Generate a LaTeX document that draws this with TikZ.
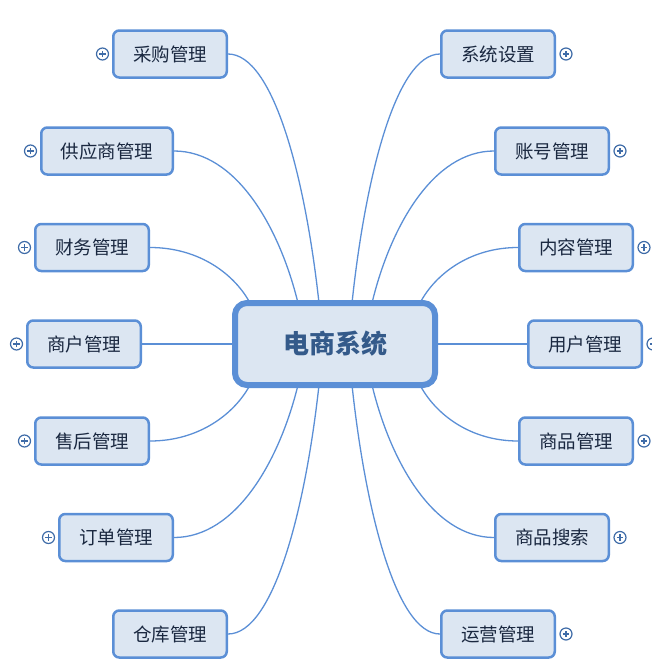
\documentclass[tikz,border=0pt]{standalone}
\usepackage{fontspec}
\newfontfamily\cjk{Noto Sans CJK SC}
\definecolor{bordc}{HTML}{5B8FD6}
\definecolor{fillc}{HTML}{DCE6F2}
\definecolor{txtc}{HTML}{1A2840}
\definecolor{roottxt}{HTML}{345A8A}
\definecolor{linkc}{HTML}{5B8FD6}
\definecolor{plusc}{HTML}{3F6CA8}
\tikzset{
  topic/.style={draw=bordc, fill=fillc, line width=2.5pt, rounded corners=6pt,
    minimum width=113.5pt, minimum height=47pt, inner sep=0pt,
    font=\cjk\fontsize{18.5}{22}\selectfont, text=txtc},
  wide/.style={minimum width=131.5pt},
  root/.style={draw=bordc, fill=fillc, line width=6pt, rounded corners=12pt,
    minimum width=200pt, minimum height=82pt, inner sep=0pt,
    font=\cjk\bfseries\fontsize{26}{31}\selectfont, text=roottxt},
  link/.style={draw=linkc, line width=1.3pt},
  plusbtn/.style={circle, draw=plusc, fill=white, line width=1.2pt, minimum size=12pt, inner sep=0pt,
    path picture={
      \draw[plusc, line width=1.3pt]
        ([xshift=-3.2pt]path picture bounding box.center) -- ([xshift=3.2pt]path picture bounding box.center)
        ([yshift=-3.2pt]path picture bounding box.center) -- ([yshift=3.2pt]path picture bounding box.center);
    }}
}
\begin{document}
\begin{tikzpicture}[x=1pt,y=-1pt]
\useasboundingbox (0,0) rectangle (652,672);
% child nodes
\node[topic] (cg) at (170,54) {采购管理};
\node[topic,wide] (gys) at (107,151) {供应商管理};
\node[topic] (cw) at (92,247.5) {财务管理};
\node[topic] (sh) at (84,344) {商户管理};
\node[topic] (shou) at (92,441) {售后管理};
\node[topic] (dd) at (116,537.5) {订单管理};
\node[topic] (ck) at (170,634) {仓库管理};
\node[topic] (xt) at (498,54) {系统设置};
\node[topic] (zh) at (552,151) {账号管理};
\node[topic] (nr) at (576,247.5) {内容管理};
\node[topic] (yh) at (585,344) {用户管理};
\node[topic] (sp) at (576,441) {商品管理};
\node[topic] (ss) at (552,537.5) {商品搜索};
\node[topic] (yy) at (498,634) {运营管理};
% attachment points on the central topic
\coordinate (tl1) at (319,303);
\coordinate (tl2) at (298,303);
\coordinate (tl3) at (250,303);
\coordinate (ml) at (235,344);
\coordinate (bl3) at (250,385);
\coordinate (bl2) at (298,385);
\coordinate (bl1) at (319,385);
\coordinate (tr1) at (352,303);
\coordinate (tr2) at (372,303);
\coordinate (tr3) at (420,303);
\coordinate (mr) at (435,344);
\coordinate (br3) at (420,385);
\coordinate (br2) at (372,385);
\coordinate (br1) at (352,385);
% connectors
\draw[link] (cg.east) .. controls +(45.5,0) and +(-13.6,-124.8) .. (tl1);
\draw[link] (gys.east) .. controls +(62,0) and +(-18.6,-76) .. (tl2);
\draw[link] (cw.east) .. controls +(50,0) and +(-15,-28) .. (tl3);
\draw[link] (sh.east) -- (ml);
\draw[link] (shou.east) .. controls +(50,0) and +(-15,28) .. (bl3);
\draw[link] (dd.east) .. controls +(62,0) and +(-18.6,76) .. (bl2);
\draw[link] (ck.east) .. controls +(45.5,0) and +(-13.6,124) .. (bl1);
\draw[link] (xt.west) .. controls +(-44,0) and +(13.2,-125) .. (tr1);
\draw[link] (zh.west) .. controls +(-61,0) and +(18.3,-76) .. (tr2);
\draw[link] (nr.west) .. controls +(-49,0) and +(14.7,-28) .. (tr3);
\draw[link] (yh.west) -- (mr);
\draw[link] (sp.west) .. controls +(-49,0) and +(14.7,28) .. (br3);
\draw[link] (ss.west) .. controls +(-61,0) and +(18.3,76) .. (br2);
\draw[link] (yy.west) .. controls +(-44,0) and +(13.2,124) .. (br1);
% central topic
\node[root] (root) at (335,344) {电商系统};
% expand buttons
\node[plusbtn] (p1) at ([xshift=-9.5pt]cg.west) {};
\node[plusbtn] (p2) at ([xshift=-9.5pt]gys.west) {};
\node[plusbtn] (p3) at ([xshift=-9.5pt]cw.west) {};
\node[plusbtn] (p4) at ([xshift=-9.5pt]sh.west) {};
\node[plusbtn] (p5) at ([xshift=-9.5pt]shou.west) {};
\node[plusbtn] (p6) at ([xshift=-9.5pt]dd.west) {};
\node[plusbtn] (q1) at ([xshift=10pt]xt.east) {};
\node[plusbtn] (q2) at ([xshift=10pt]zh.east) {};
\node[plusbtn] (q3) at ([xshift=10pt]nr.east) {};
\node[plusbtn] (q4) at ([xshift=10pt]yh.east) {};
\node[plusbtn] (q5) at ([xshift=10pt]sp.east) {};
\node[plusbtn] (q6) at ([xshift=10pt]ss.east) {};
\node[plusbtn] (q7) at ([xshift=10pt]yy.east) {};
\end{tikzpicture}
\end{document}
